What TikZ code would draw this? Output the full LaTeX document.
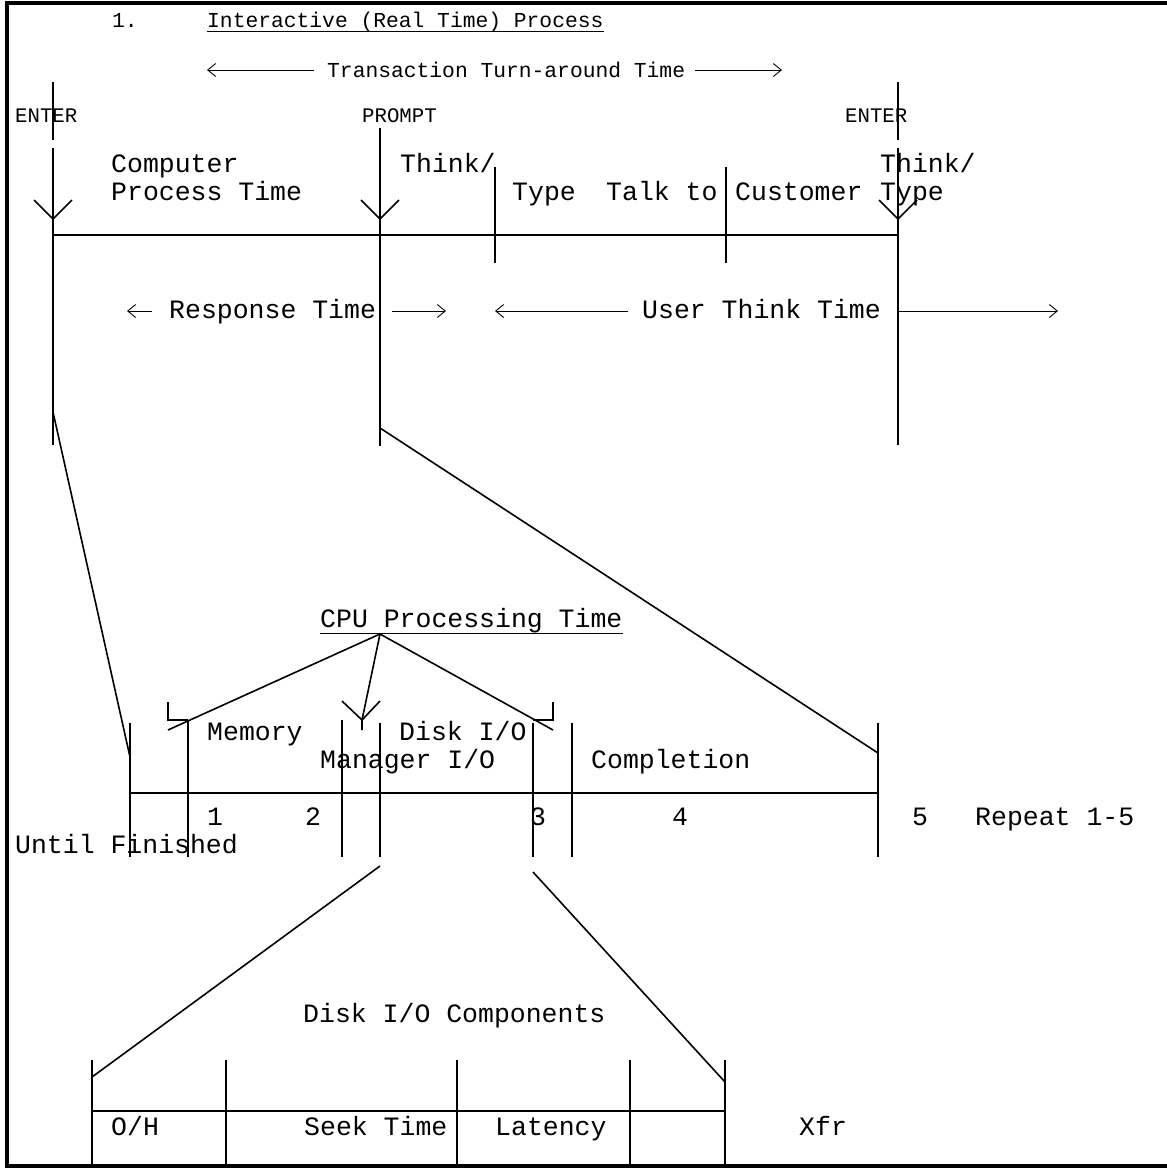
\documentclass[tikz,border=0pt]{standalone}
\usepackage{fontspec}
\setmainfont{Liberation Mono}
\usetikzlibrary{arrows.meta}

\begin{document}
\begin{tikzpicture}[
  x=1pt, y=-1pt,
  big/.style={font=\fontsize{26.5}{28}\selectfont, anchor=base west, inner sep=0pt},
  small/.style={font=\fontsize{21.3}{24}\selectfont, anchor=base west, inner sep=0pt},
  tag/.style={font=\fontsize{20.7}{24}\selectfont, anchor=base west, inner sep=0pt},
  bar/.style={line width=1.8pt},
  tickline/.style={line width=1.6pt},
  thinline/.style={line width=1.1pt},
  span/.style={line width=0.8pt, -{Straight Barb[length=8pt,width=13pt,line width=0.9pt]}},
]
\useasboundingbox (0,0) rectangle (1167,1168);
\draw[line width=4pt] (1167,3) -- (6.5,3) -- (6.5,1166) -- (1167,1166);

% title and turn-around span
\node[small] (num) at (112,27) {1.};
\node[small] (title) at (207,27) {Interactive (Real Time) Process};
\draw[line width=1pt] ([yshift=-4.5pt]title.base west) -- ([yshift=-4.5pt]title.base east);
\node[small] (tat) at (327,77) {Transaction Turn-around Time};
\draw[span] (314,70) -- (207,70);
\draw[span] (695,70) -- (782,70);

% interactive timeline
\coordinate (enterA) at (53,235);
\coordinate (promptA) at (380,235);
\coordinate (typeA) at (495,235);
\coordinate (talkA) at (726,235);
\coordinate (enterB) at (898,235);

\node[tag] (enter1) at (15,122) {ENTER};
\node[tag] (prompt) at (362,122) {PROMPT};
\node[tag] (enter2) at (845,122) {ENTER};

\draw[bar] (enterA) -- (enterB);
\draw[thinline] (53,82) -- (53,140) (53,148) -- (53,445);
\draw[tickline] (380,128) -- (380,446);
\draw[thinline] (898,82) -- (898,140) (898,148) -- (898,445);
\draw[tickline] (495,167) -- (495,263);
\draw[tickline] (726,167) -- (726,263);
\draw[tickline] (34,200) -- (53,219) -- (72,200);
\draw[tickline] (361,200) -- (380,219) -- (399,200);
\draw[tickline] (879,200) -- (898,219) -- (917,200);

\node[big] (comp) at (111,172) {Computer};
\node[big] (proc) at (111,200) {Process Time};
\node[big] (think1) at (400,172) {Think/};
\node[big] (type1) at (512,200) {Type};
\node[big] (talk) at (606,200) {Talk to};
\node[big] (cust) at (735,200) {Customer};
\node[big] (think2) at (880,172) {Think/};
\node[big] (type2) at (880,200) {Type};

\node[big] (resp) at (169,318) {Response Time};
\draw[span] (152,311) -- (127,311);
\draw[span] (392,311) -- (446,311);
\node[big] (user) at (642,318) {User Think Time};
\draw[span] (628,311) -- (495,311);
\draw[span] (898,311) -- (1058,311);

% CPU processing breakdown
\coordinate (enterC) at (53,412);
\coordinate (promptC) at (380,428);
\coordinate (startB) at (130,757);
\coordinate (endB) at (878,753);
\draw[tickline] (enterC) -- (startB);
\draw[tickline] (promptC) -- (endB);

\node[big] (cpu) at (320,627) {CPU Processing Time};
\draw[line width=1pt] ([yshift=-6pt]cpu.base west) -- ([yshift=-6pt]cpu.base east);
\coordinate (apex) at (380,634);
\draw[tickline] (apex) -- (168,730);
\draw[tickline] (168,702) -- (168,720) -- (188,720);
\draw[tickline] (apex) -- (553,730);
\draw[tickline] (553,702) -- (553,720) -- (533,720);
\draw[tickline] (apex) -- (362,720) -- (362,730);
\draw[tickline] (342,701) -- (362,720) -- (380,701);

\draw[bar] (130,793) -- (878,793);
\foreach \x/\a in {130/723, 188/720, 342/720, 380/723, 533/723, 572/723, 878/723}
  \draw[tickline] (\x,\a) -- (\x,857);

\node[big] (mem) at (207,740) {Memory};
\node[big] (disk) at (399,740) {Disk I/O};
\node[big] (mgr) at (320,768) {Manager I/O};
\node[big] (compl) at (591,768) {Completion};
\node[big] (n1) at (207,825) {1};
\node[big] (n2) at (305,825) {2};
\node[big] (n3) at (530,825) {3};
\node[big] (n4) at (672,825) {4};
\node[big] (n5) at (912,825) {5};
\node[big] (rep) at (975,825) {Repeat 1-5};
\node[big] (until) at (15,853) {Until Finished};

% disk I/O breakdown
\coordinate (diskA) at (380,866);
\coordinate (diskB) at (533,872);
\coordinate (ohA) at (92,1077);
\coordinate (xfrA) at (725,1082);
\draw[tickline] (diskA) -- (ohA);
\draw[tickline] (diskB) -- (xfrA);

\node[big] (dioc) at (303,1022) {Disk I/O Components};
\draw[bar] (92,1111) -- (725,1111);
\foreach \x in {92, 226, 457, 630, 725}
  \draw[tickline] (\x,1060) -- (\x,1166);

\node[big] (oh) at (111,1135) {O/H};
\node[big] (seek) at (304,1135) {Seek Time};
\node[big] (lat) at (495,1135) {Latency};
\node[big] (xfr) at (799,1135) {Xfr};
\end{tikzpicture}
\end{document}
